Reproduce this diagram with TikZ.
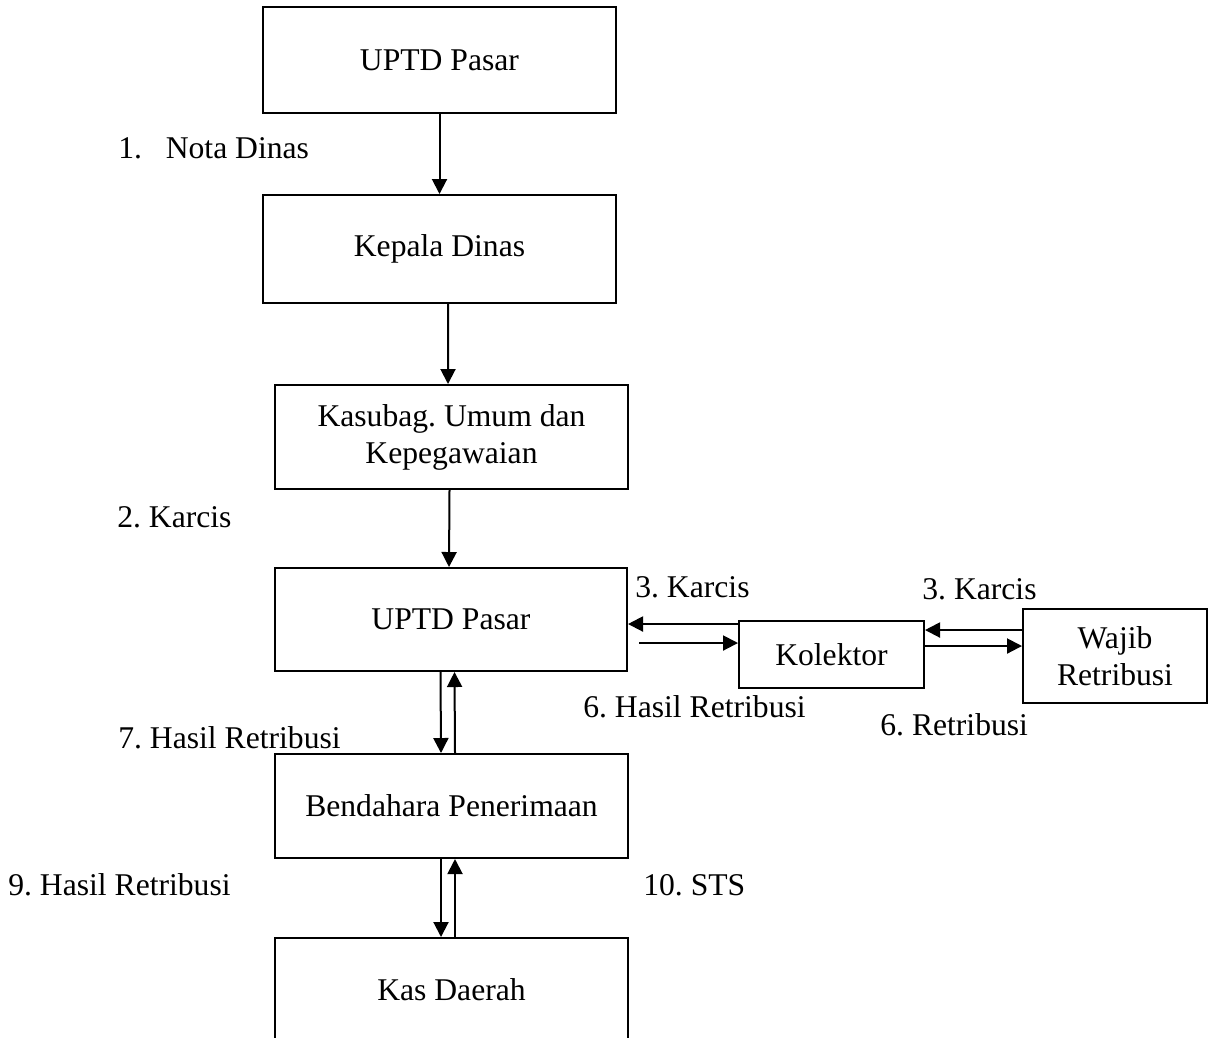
\documentclass[tikz,border=0pt]{standalone}
\usepackage{fontspec}
\setmainfont{Liberation Serif}
\usetikzlibrary{arrows.meta, calc}
\newcommand{\flowfont}{\fontsize{18}{21}\selectfont\frenchspacing}
\tikzset{
    flow box/.style={draw, line width=0.4mm, align=center, inner sep=2pt, font=\flowfont},
    flow label/.style={anchor=base west, inner sep=0pt, font=\flowfont},
    flow arrow/.style={-{Triangle[length=3mm, width=3mm]}, line width=0.4mm},
}

\begin{document}
\begin{tikzpicture}[x=0.2mm, y=-0.2mm]
    \useasboundingbox (0,0) rectangle (1216,1037);
    % boxes: name/x/y/width/height/text
    \foreach \name/\x/\y/\w/\h/\txt in {
        uptda/439.5/60/353/106/{UPTD Pasar},
        kepala/439.5/249/353/108/{Kepala Dinas},
        kasubag/451.5/437/353/104/{Kasubag. Umum dan\\Kepegawaian},
        uptdb/451/619.5/352/103/{UPTD Pasar},
        bendahara/451.5/806/353/104/{Bendahara Penerimaan},
        kas/451.5/990/353/104/{Kas Daerah},
        kolektor/831.5/654.5/185/67/{Kolektor},
        wajib/1115/656/184/94/{Wajib\\Retribusi}} {
        \node[flow box, minimum width=\w*0.2mm, minimum height=\h*0.2mm] (\name) at (\x,\y) {\txt};
    }
    % labels beside the arrows
    \foreach \name/\x/\y/\txt in {
        nota/118/158/{1.\hspace{0.75em}Nota Dinas},
        karcisa/117/527/{2. Karcis},
        karcisb/635/597/{3. Karcis},
        karcisc/922/599/{3. Karcis},
        hasila/583/717/{6. Hasil Retribusi},
        retribusi/880/735/{6. Retribusi},
        hasilb/118/748/{7. Hasil Retribusi},
        hasilc/8/895/{9. Hasil Retribusi},
        sts/643/895/{10. STS}} {
        \node[flow label] (\name) at (\x,\y) {\txt};
    }
    % vertical flow
    \draw[flow arrow] (uptda) -- (kepala);
    \draw[flow arrow] ($(kepala.south)+(8.5,0)$) -- ($(kasubag.north)+(-3.5,0)$);
    \draw[flow arrow] ($(kasubag.south)+(-2,0)$) -- ($(uptdb.north)+(-2,0)$);
    \foreach \upper/\lower in {uptdb/bendahara, bendahara/kas} {
        \draw[flow arrow] ($(\upper.south)+(-10.5,0)$) -- ($(\lower.north)+(-10.5,0)$);
        \draw[flow arrow] ($(\lower.north)+(3.5,0)$) -- ($(\upper.south)+(3.5,0)$);
    }
    % side flow
    \draw[flow arrow] ($(kolektor.west)+(0,-30.5)$) -- ($(kolektor.west -| uptdb.east)+(0,-30.5)$);
    \draw[flow arrow] ($(kolektor.west -| uptdb.east)+(11,-11.5)$) -- ($(kolektor.west)+(0,-11.5)$);
    \draw[flow arrow] ($(wajib.west |- kolektor.east)+(0,-24.5)$) -- ($(kolektor.east)+(0,-24.5)$);
    \draw[flow arrow] ($(kolektor.east)+(0,-8.5)$) -- ($(wajib.west |- kolektor.east)+(0,-8.5)$);
\end{tikzpicture}
\end{document}
